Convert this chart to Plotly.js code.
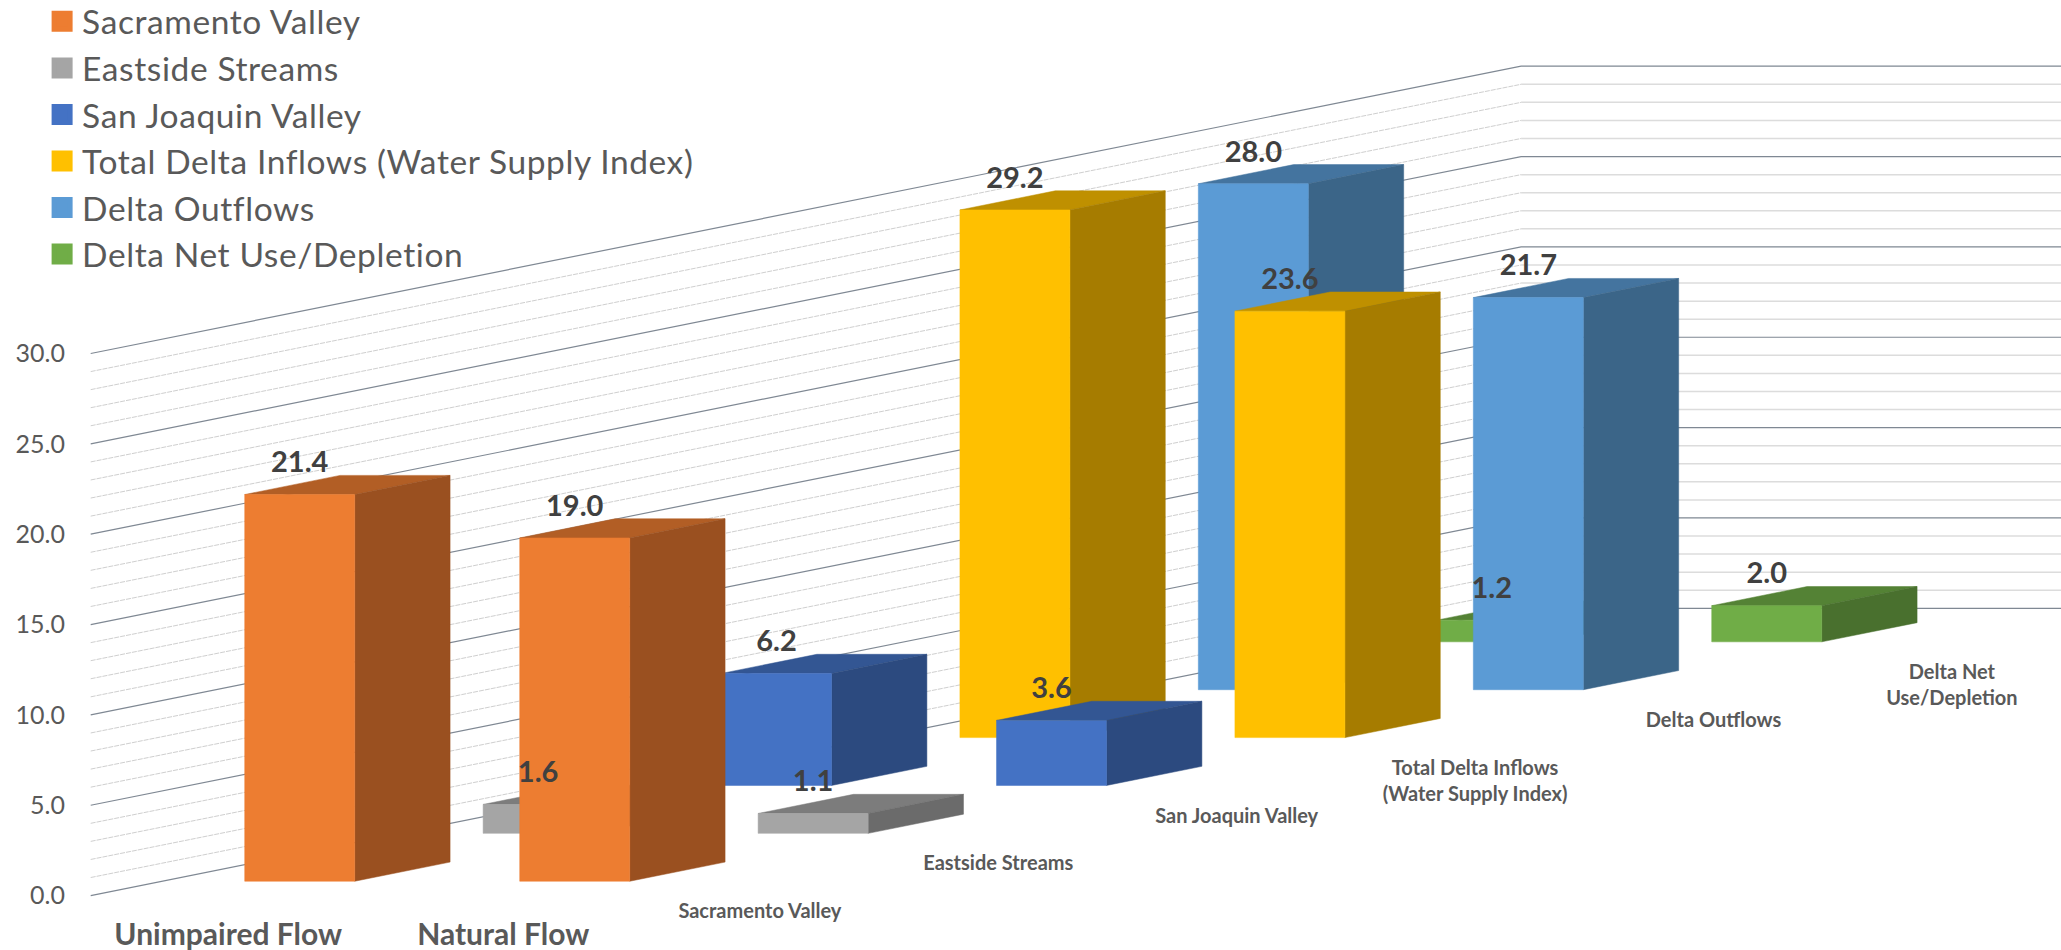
<!DOCTYPE html>
<html>
<head>
<meta charset="utf-8">
<title>Delta water budget</title>
<script src="https://cdn.plot.ly/plotly-3.0.1.min.js"></script>
<style>
html,body{margin:0;padding:0;background:#fff}
#chart{width:2061px;height:950px}
.legendtext{letter-spacing:0.6px}
</style>
</head>
<body>
<div id="chart"></div>
<script>
// Values per flow component, in the order [Unimpaired Flow, Natural Flow]
const categories = ['Unimpaired Flow', 'Natural Flow'];
const seriesNames = ['Sacramento Valley', 'Eastside Streams', 'San Joaquin Valley',
  'Total Delta Inflows (Water Supply Index)', 'Delta Outflows', 'Delta Net Use/Depletion'];
const depthLabels = ['Sacramento Valley', 'Eastside Streams', 'San Joaquin Valley',
  'Total Delta Inflows<br>(Water Supply Index)', 'Delta Outflows', 'Delta Net<br>Use/Depletion'];
const sacramentoValley = [21.4, 19.0];
const eastsideStreams = [1.6, 1.1];
const sanJoaquinValley = [6.2, 3.6];
const totalDeltaInflows = [29.2, 23.6];
const deltaOutflows = [28.0, 21.7];
const deltaNetUse = [1.2, 2.0];
const seriesValues = [sacramentoValley, eastsideStreams, sanJoaquinValley,
  totalDeltaInflows, deltaOutflows, deltaNetUse];

const frontColors = ['#ED7D31', '#A5A5A5', '#4472C4', '#FFC000', '#5B9BD5', '#70AD47'];
const topColors = ['#B25E25', '#7C7C7C', '#335693', '#BF9000', '#44749F', '#548235'];
const sideColors = ['#9A5020', '#6B6B6B', '#2C4A7F', '#A67C00', '#3B6588', '#49702E'];

const valueTicks = [0, 5, 10, 15, 20, 25, 30];
const MAX_VALUE = 30;

// Oblique projection of the chart box: one category unit along x, value along y,
// and each series slot steps back up and to the right.
const PX_PER_CATEGORY = 275, PX_PER_VALUE = 18.07;
const DEPTH_X = 238.4 / PX_PER_CATEGORY;
const DEPTH_Y = 47.88 / PX_PER_VALUE;
const GAP = 0.3, BAR = 0.4;
const DEPTH_SLOTS = seriesNames.length;
const FLOOR_WIDTH = categories.length;
const ORIGIN_X = 90.7, ORIGIN_Y = 895.6;
const PLOT_LEFT = 90;
const px = (u, d) => u + d * DEPTH_X;
const py = (v, d) => v + d * DEPTH_Y;

function addPolygon(xs, ys, corners) {
  corners.concat([corners[0], [null, null, null]]).forEach(([u, d, v]) => {
    xs.push(u === null ? null : px(u, d));
    ys.push(u === null ? null : py(v, d));
  });
}

// One polyline per value level, running through the given floor/wall points
function gridTrace(values, path, line) {
  const x = [], y = [];
  values.forEach(v => {
    path.forEach(([u, d]) => { x.push(px(u, d)); y.push(py(v, d)); });
    x.push(null); y.push(null);
  });
  return {type: 'scatter', mode: 'lines', x, y, showlegend: false, hoverinfo: 'skip', line};
}

function faceTrace(color, group, xs, ys) {
  return {type: 'scatter', mode: 'lines', x: xs, y: ys, fill: 'toself', fillcolor: color,
    line: {color, width: 0.5}, legendgroup: group, showlegend: false, hoverinfo: 'skip'};
}

const traces = [];

// Legend keys come first so the legend keeps the series order
seriesNames.forEach((name, s) => {
  traces.push({type: 'scatter', mode: 'markers', x: [null], y: [null], name, legendgroup: 'g' + s,
    marker: {symbol: 'square', size: 16, color: frontColors[s], line: {color: frontColors[s], width: 5}}});
});

// Side wall and back wall lines
const minorValues = [], majorValues = [];
for (let v = 0; v <= MAX_VALUE; v++) (v % 5 === 0 ? majorValues : minorValues).push(v);
const sidePath = [[0, 0], [0, DEPTH_SLOTS]];
const backPath = [[0, DEPTH_SLOTS], [FLOOR_WIDTH, DEPTH_SLOTS]];
traces.push(gridTrace(minorValues, sidePath, {color: '#cfcfcf', width: 1, dash: '5px,1px'}));
traces.push(gridTrace(minorValues, backPath, {color: '#dcdcdc', width: 1.5}));
traces.push(gridTrace(majorValues, sidePath.concat([backPath[1]]), {color: '#7f8893', width: 1.2}));

// Boxes are painted from the back slot to the front one
for (let s = DEPTH_SLOTS - 1; s >= 0; s--) {
  const top = {x: [], y: []}, side = {x: [], y: []}, front = {x: [], y: []};
  seriesValues[s].forEach((v, c) => {
    const u0 = c + GAP, u1 = u0 + BAR, d0 = s + GAP, d1 = d0 + BAR;
    addPolygon(top.x, top.y, [[u0, d0, v], [u1, d0, v], [u1, d1, v], [u0, d1, v]]);
    addPolygon(side.x, side.y, [[u1, d0, 0], [u1, d1, 0], [u1, d1, v], [u1, d0, v]]);
    addPolygon(front.x, front.y, [[u0, d0, 0], [u1, d0, 0], [u1, d0, v], [u0, d0, v]]);
  });
  traces.push(faceTrace(topColors[s], 'g' + s, top.x, top.y));
  traces.push(faceTrace(sideColors[s], 'g' + s, side.x, side.y));
  traces.push(faceTrace(frontColors[s], 'g' + s, front.x, front.y));
}

// Value labels sit above each box's front face
const labelLift = 1.63;
const lx = [], ly = [], lt = [];
seriesValues.forEach((vals, s) => vals.forEach((v, c) => {
  lx.push(px(c + 0.5, s + GAP));
  ly.push(py(v + labelLift, s + GAP));
  lt.push(v.toFixed(1));
}));
traces.push({type: 'scatter', mode: 'text', x: lx, y: ly, text: lt, textposition: 'middle center',
  textfont: {family: 'Lato, sans-serif', size: 29, color: '#404040', weight: 700},
  showlegend: false, hoverinfo: 'skip'});

// Series names run along the right-hand edge of the floor
const dropBelowFloor = -1.75;
traces.push({type: 'scatter', mode: 'text',
  x: depthLabels.map((_, s) => px(FLOOR_WIDTH, s + 0.5)),
  y: depthLabels.map((_, s) => py(dropBelowFloor, s + 0.5)),
  text: depthLabels, textposition: 'bottom center',
  textfont: {family: 'Lato, sans-serif', size: 20, color: '#595959', weight: 700},
  showlegend: false, hoverinfo: 'skip'});

const layout = {
  width: 2061, height: 950,
  margin: {l: PLOT_LEFT, r: 0, t: 0, b: 0, pad: 0, autoexpand: false},
  paper_bgcolor: '#fff', plot_bgcolor: '#fff',
  showlegend: true,
  legend: {x: -0.0243, xanchor: 'left', y: 1.0073, yanchor: 'top', traceorder: 'grouped', tracegroupgap: 0,
    font: {family: 'Lato, sans-serif', size: 33.5, color: '#595959'},
    bgcolor: 'rgba(0,0,0,0)', itemclick: false, itemdoubleclick: false},
  xaxis: {
    range: [(PLOT_LEFT - ORIGIN_X) / PX_PER_CATEGORY, (2061 - ORIGIN_X) / PX_PER_CATEGORY],
    anchor: 'free', position: (950 - ORIGIN_Y) / 950,
    tickmode: 'array', tickvals: categories.map((_, c) => c + 0.5), ticktext: categories,
    tickfont: {family: 'Lato, sans-serif', size: 30, color: '#595959', weight: 700},
    ticks: '', ticklabelstandoff: 18, showgrid: false, zeroline: false, showline: false
  },
  yaxis: {
    range: [(ORIGIN_Y - 950) / PX_PER_VALUE, ORIGIN_Y / PX_PER_VALUE],
    tickmode: 'array', tickvals: valueTicks, tickformat: '.1f',
    tickfont: {family: 'Lato, sans-serif', size: 25, color: '#595959'},
    ticks: '', ticklabelstandoff: 24, showgrid: false, zeroline: false, showline: false
  }
};

Plotly.newPlot('chart', traces, layout, {displayModeBar: false, responsive: false});
</script>
</body>
</html>
